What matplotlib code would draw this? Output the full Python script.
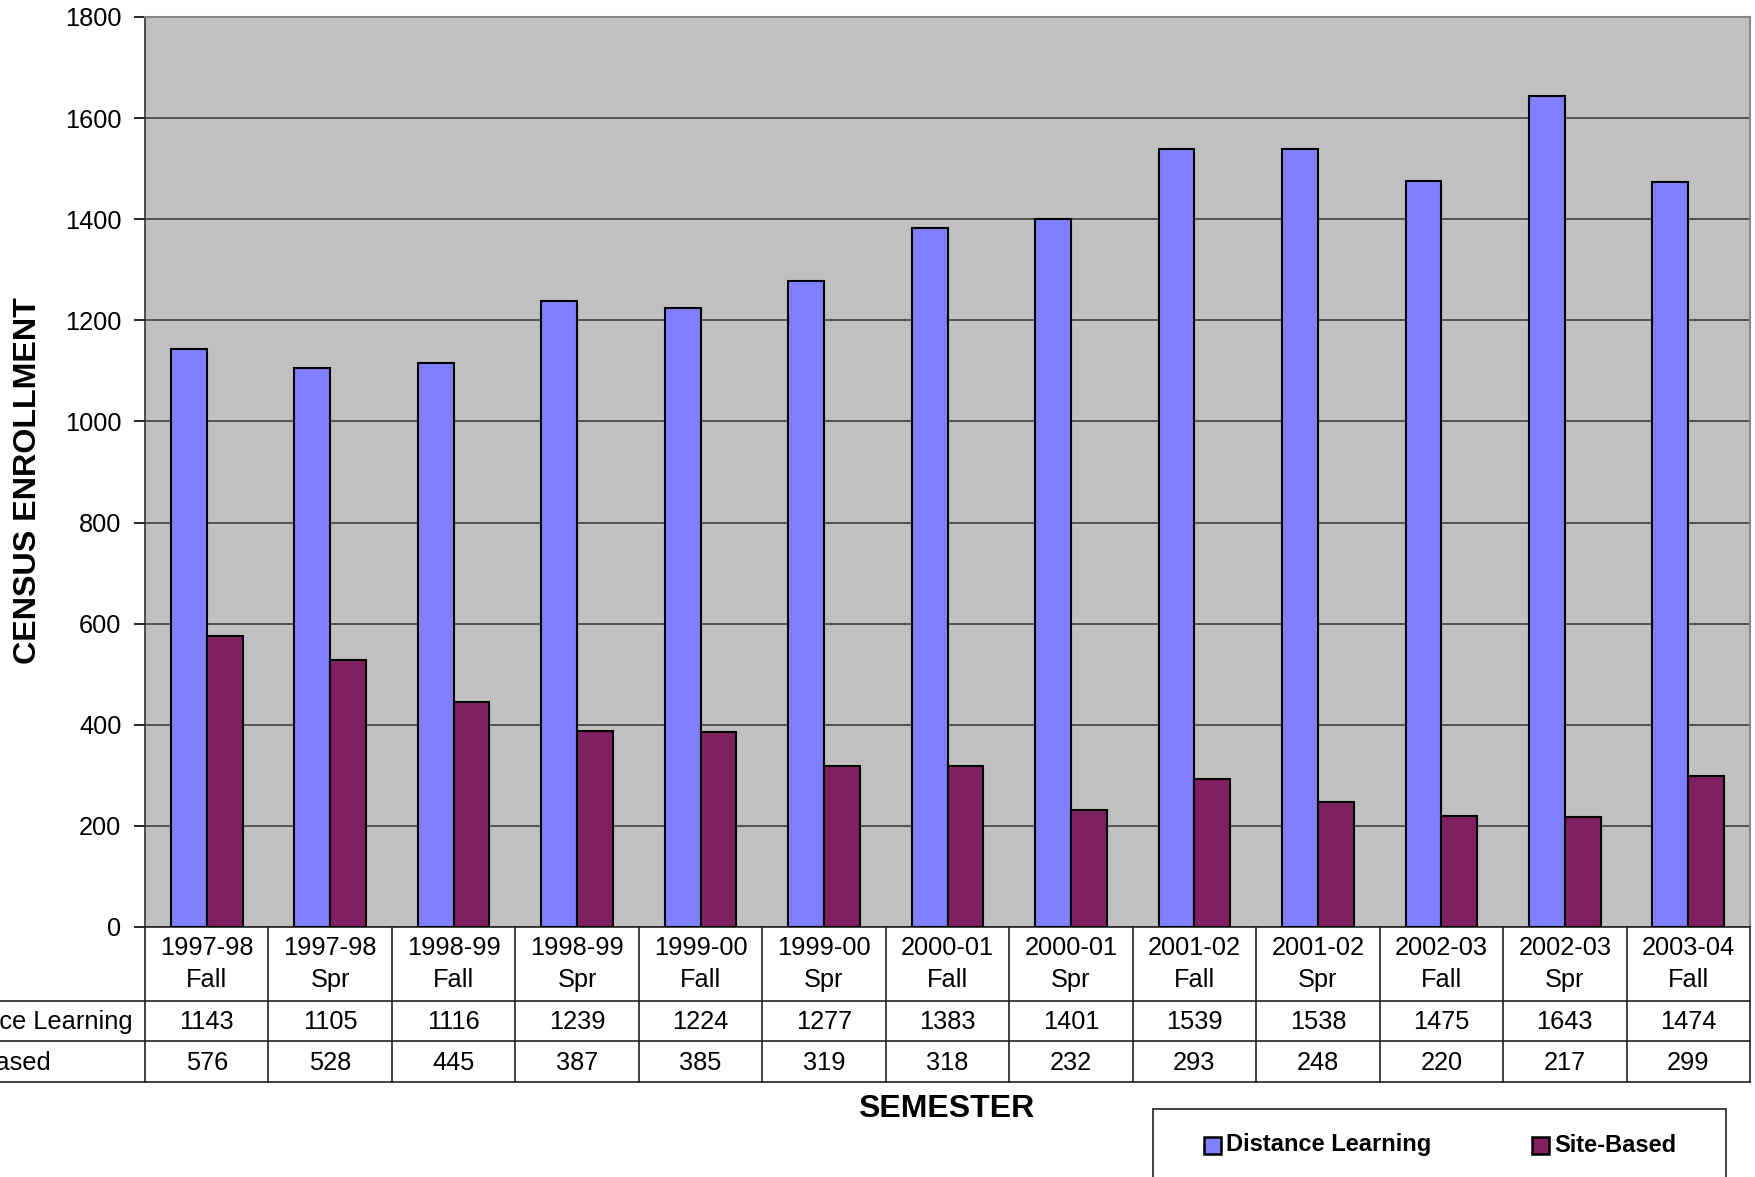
import matplotlib
matplotlib.use('Agg')
import matplotlib.pyplot as plt
from matplotlib.patches import Rectangle
from matplotlib.lines import Line2D
from matplotlib.transforms import blended_transform_factory
import numpy as np

plt.rcParams['font.family'] = ['Liberation Sans', 'DejaVu Sans']

years = ['1997-98', '1997-98', '1998-99', '1998-99', '1999-00', '1999-00', '2000-01',
         '2000-01', '2001-02', '2001-02', '2002-03', '2002-03', '2003-04']
terms = ['Fall', 'Spr', 'Fall', 'Spr', 'Fall', 'Spr', 'Fall',
         'Spr', 'Fall', 'Spr', 'Fall', 'Spr', 'Fall']
distance = [1143, 1105, 1116, 1239, 1224, 1277, 1383, 1401, 1539, 1538, 1475, 1643, 1474]
site = [576, 528, 445, 387, 385, 319, 318, 232, 293, 248, 220, 217, 299]
series_names = ['Distance Learning', 'Site-Based']
colors = ['#8080FF', '#802060']

W, H = 1756, 1177
fig = plt.figure(figsize=(W / 100, H / 100), dpi=100)

def fx(px):
    return px / W

def fy(py):
    return 1 - py / H

FS = 18.3

# plot area in pixels
L, R, T, B = 145, 1750, 17, 927
ax = fig.add_axes([fx(L), fy(B), fx(R) - fx(L), fy(T) - fy(B)])
ax.set_facecolor('#C0C0C0')

n = len(years)
x = np.arange(n)
bw = 0.29
ax.bar(x + 0.21, distance, width=bw, align='edge', color=colors[0],
       edgecolor='black', linewidth=1.5, zorder=3)
ax.bar(x + 0.5, site, width=bw, align='edge', color=colors[1],
       edgecolor='black', linewidth=1.5, zorder=3)

ax.set_xlim(0, n)
ax.set_ylim(0, 1800)
ax.set_yticks(range(0, 1801, 200))
ax.set_xticks([])
ax.yaxis.grid(True, color='#404040', linewidth=1.2, zorder=1)
ax.tick_params(axis='y', length=8, direction='out', labelsize=FS, pad=9, width=1.2)
for s in ['top', 'right']:
    ax.spines[s].set_color('#888888')
    ax.spines[s].set_linewidth(1.5)
ax.spines['left'].set_color('#333333')
ax.spines['left'].set_linewidth(1.2)
ax.spines['bottom'].set_color('#222222')
ax.spines['bottom'].set_linewidth(1.2)

fig.text(fx(28), fy(481), 'CENSUS ENROLLMENT', rotation=90, ha='center', va='center',
         fontsize=23.2, fontweight='bold')

# data table under the plot
bt = blended_transform_factory(ax.transData, fig.transFigure)
row_y = [927, 1001, 1041, 1082]
for px in row_y[1:]:
    fig.add_artist(Line2D([0, fx(R)], [fy(px), fy(px)], color='#222222', linewidth=1.2))
for i in range(n + 1):
    fig.add_artist(Line2D([i, i], [fy(row_y[0]), fy(row_y[-1])], transform=bt,
                          color='#222222', linewidth=1.2))

for i in range(n):
    ax.text(i + 0.5, fy(948), years[i], transform=bt, ha='center', va='center', fontsize=FS)
    ax.text(i + 0.5, fy(980), terms[i], transform=bt, ha='center', va='center', fontsize=FS)
    ax.text(i + 0.5, fy(1022), str(distance[i]), transform=bt, ha='center', va='center', fontsize=FS)
    ax.text(i + 0.5, fy(1063), str(site[i]), transform=bt, ha='center', va='center', fontsize=FS)

fig.text(fx(-73), fy(1022), series_names[0], ha='left', va='center', fontsize=FS)
fig.text(fx(-73), fy(1063), series_names[1], ha='left', va='center', fontsize=FS)

fig.text(fx(946), fy(1109), 'SEMESTER', ha='center', va='center', fontsize=23, fontweight='bold')

# legend box
fig.add_artist(Rectangle((fx(1153), fy(1190)), fx(1726) - fx(1153), fy(1109) - fy(1190),
                         transform=fig.transFigure, facecolor='white',
                         edgecolor='#222222', linewidth=1.2))
for sx, name, c in zip([1204, 1532], series_names, colors):
    fig.add_artist(Rectangle((fx(sx), fy(1154)), fx(sx + 17) - fx(sx), fy(1137) - fy(1154),
                             transform=fig.transFigure, facecolor=c,
                             edgecolor='black', linewidth=1.8))
    fig.text(fx(sx + 22), fy(1145), name, ha='left', va='center', fontsize=17, fontweight='bold')

fig.savefig('out.png', dpi=100)
